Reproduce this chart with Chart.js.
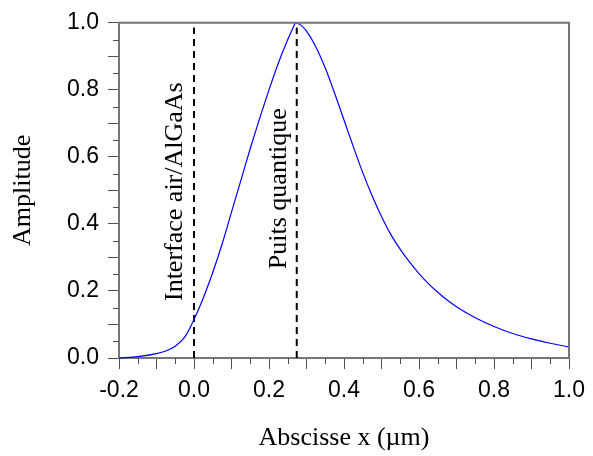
<!DOCTYPE html>
<html>
<head>
<meta charset="utf-8">
<script src="https://cdn.jsdelivr.net/npm/chart.js@4.4.1/dist/chart.umd.min.js"></script>
<style>
html,body{margin:0;padding:0;background:#fff;}
#wrap{width:593px;height:456px;position:relative;}
</style>
</head>
<body>
<div id="wrap"><canvas id="c" width="593" height="456"></canvas></div>
<script>
// ---- data ----
const xValues = [-0.2, -0.15, -0.1, -0.075, -0.05, -0.025, 0, 0.025, 0.05, 0.075, 0.1, 0.125, 0.15, 0.175, 0.2, 0.225, 0.25, 0.262, 0.272, 0.285, 0.3, 0.325, 0.35, 0.375, 0.4, 0.425, 0.45, 0.475, 0.5, 0.525, 0.55, 0.575, 0.6, 0.625, 0.65, 0.675, 0.7, 0.75, 0.8, 0.85, 0.9, 0.95, 1.0];
const amplitude = [0.0, 0.004, 0.013, 0.021, 0.035, 0.062, 0.115, 0.18, 0.255, 0.34, 0.435, 0.53, 0.625, 0.715, 0.80, 0.88, 0.95, 0.98, 1.0, 0.993, 0.975, 0.928, 0.865, 0.79, 0.71, 0.63, 0.553, 0.484, 0.422, 0.368, 0.324, 0.286, 0.252, 0.222, 0.196, 0.173, 0.153, 0.12, 0.094, 0.073, 0.057, 0.044, 0.033];
const interfaceX = [0, 0];
const interfaceY = [0, 0.986];
const wellX = [0.274, 0.274];
const wellY = [0, 0.986];
const annotations = [
  {text: 'Interface air/AlGaAs', x: -0.031, y: 0.17},
  {text: 'Puits quantique', x: 0.244, y: 0.265}
];
const xTitle = 'Abscisse x (\u00b5m)';
const yTitle = 'Amplitude';

const toPts = (xs, ys) => xs.map((x, i) => ({x: x, y: ys[i]}));
const fmt = v => {
  const r = Math.round(v * 10);
  return r % 2 === 0 ? (r === 0 ? '0.0' : (r / 10).toFixed(1)) : '';
};

const AXIS = '#767676';
const TICK = '#505050';
const serif = "'Liberation Serif','Times New Roman',serif";
const sans = "'Liberation Sans',Arial,sans-serif";

const decor = {
  id: 'decor',
  afterDraw(chart) {
    const ctx = chart.ctx;
    const a = chart.chartArea;
    const xs = chart.scales.x, ys = chart.scales.y;
    ctx.save();
    // frame top/right
    ctx.strokeStyle = AXIS;
    ctx.lineWidth = 2;
    ctx.beginPath();
    ctx.moveTo(a.left, a.top);
    ctx.lineTo(a.right, a.top);
    ctx.lineTo(a.right, a.bottom);
    ctx.stroke();
    // minor ticks
    ctx.strokeStyle = TICK;
    ctx.lineWidth = 1;
    ctx.beginPath();
    for (let k = 0; k < 12; k++) {
      const v = -0.15 + k * 0.1;
      const px = Math.round(xs.getPixelForValue(v)) + 0.5;
      ctx.moveTo(px, a.bottom);
      ctx.lineTo(px, a.bottom + 6);
    }
    for (let k = 0; k < 10; k++) {
      const v = 0.05 + k * 0.1;
      const py = Math.round(ys.getPixelForValue(v)) + 0.5;
      ctx.moveTo(a.left, py);
      ctx.lineTo(a.left - 6, py);
    }
    ctx.stroke();
    // annotations
    ctx.fillStyle = '#000';
    ctx.font = '26px ' + serif;
    ctx.textAlign = 'left';
    ctx.textBaseline = 'alphabetic';
    annotations.forEach(an => {
      ctx.save();
      ctx.translate(xs.getPixelForValue(an.x), ys.getPixelForValue(an.y));
      ctx.rotate(-Math.PI / 2);
      ctx.fillText(an.text, 0, 0);
      ctx.restore();
    });
    ctx.restore();
  }
};

new Chart(document.getElementById('c'), {
  type: 'line',
  data: {
    datasets: [
      {data: toPts(xValues, amplitude), borderColor: '#0000ff', borderWidth: 1.2, pointRadius: 0, cubicInterpolationMode: 'monotone', fill: false, clip: false},
      {data: toPts(interfaceX, interfaceY), borderColor: '#000', borderWidth: 2, borderDash: [7, 5], pointRadius: 0, fill: false},
      {data: toPts(wellX, wellY), borderColor: '#000', borderWidth: 2, borderDash: [7, 5], pointRadius: 0, fill: false}
    ]
  },
  options: {
    responsive: false,
    animation: false,
    events: [],
    layout: {padding: {top: 19, right: 23, left: 0, bottom: 0}},
    plugins: {legend: {display: false}, tooltip: {enabled: false}},
    scales: {
      x: {
        type: 'linear', min: -0.2, max: 1.0,
        afterFit: s => { s.height = 98; },
        border: {color: AXIS, width: 2},
        grid: {drawOnChartArea: false, tickLength: 11, color: TICK, lineWidth: 1},
        ticks: {stepSize: 0.1, autoSkip: false, maxRotation: 0, color: '#000', padding: 8,
          font: {family: sans, size: 23}, callback: fmt},
        title: {display: true, text: xTitle, color: '#000', font: {family: serif, size: 26}, padding: {top: 0, bottom: 2}}
      },
      y: {
        type: 'linear', min: 0, max: 1.0,
        afterFit: s => { s.width = 119; },
        border: {color: AXIS, width: 2},
        grid: {drawOnChartArea: false, tickLength: 11, color: TICK, lineWidth: 1},
        ticks: {stepSize: 0.1, autoSkip: false, color: '#000', padding: 9,
          font: {family: sans, size: 23}, callback: fmt},
        title: {display: true, text: yTitle, color: '#000', font: {family: serif, size: 26}, padding: {top: 8, bottom: 0}}
      }
    }
  },
  plugins: [decor]
});
</script>
</body>
</html>
